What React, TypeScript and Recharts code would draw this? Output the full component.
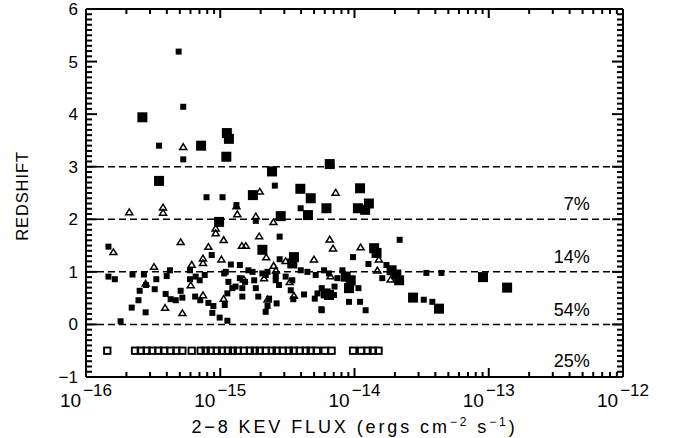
import { ScatterChart, Scatter, XAxis, YAxis, ReferenceLine } from "recharts";

// [flux (erg cm^-2 s^-1), redshift]
const smallSquares: [number, number][] = [
  [4.9e-16, 5.19], [5.3e-16, 4.14], [3.5e-16, 3.4], [5.3e-16, 3.14], [7.9e-16, 2.42], [1.04e-15, 2.42], [2.55e-15, 2.64], [3.97e-15, 2.21], [1.32e-15, 2.27], [1.84e-15, 1.97],
  [1.47e-16, 1.48], [8.64e-16, 1.32], [4.22e-16, 1.03], [5.95e-16, 1.03], [1.47e-16, 0.91], [1.64e-16, 0.86], [2.22e-16, 0.95], [2.7e-16, 0.95], [3.34e-16, 0.86], [3.99e-16, 0.92],
  [2.8e-16, 0.75], [2.51e-16, 0.64], [3.25e-16, 0.67], [2.46e-16, 0.46], [2.19e-16, 0.32], [2.78e-16, 0.23], [1.81e-16, 0.06], [3.92e-16, 0.58], [4.27e-16, 0.48], [4.66e-16, 0.46],
  [5.22e-16, 0.51], [5.07e-16, 0.64], [5.95e-16, 0.86], [6.56e-16, 0.91], [7.03e-16, 0.84], [7.66e-16, 0.94], [6.5e-16, 0.53], [7.1e-16, 0.46], [8.16e-16, 0.41], [8.89e-16, 0.35],
  [8.73e-16, 0.22], [9.9e-16, 0.13], [1.07e-15, 0.97], [1.08e-15, 0.37], [2.77e-15, 1.67], [2.77e-15, 1.24], [9.75e-15, 1.28], [1.2e-15, 1.14], [1.4e-15, 1.13], [1.1e-15, 1.0],
  [1.62e-15, 1.03], [1.74e-15, 1.0], [2.06e-15, 0.97], [2.25e-15, 1.0], [2.59e-15, 0.92], [3.98e-15, 1.03], [4.46e-15, 1.0], [5.14e-15, 0.94], [5.93e-15, 1.03], [6.46e-15, 0.97],
  [8.13e-15, 1.03], [1.15e-15, 0.81], [1.4e-15, 0.88], [1.53e-15, 0.81], [1.79e-15, 0.84], [2.18e-15, 0.94], [2.59e-15, 0.84], [2.74e-15, 0.75], [3.07e-15, 0.91], [3.44e-15, 0.84],
  [3.35e-15, 0.65], [1.46e-15, 0.69], [1.3e-15, 0.72], [1.23e-15, 0.69], [1.84e-15, 0.69], [1.46e-15, 0.53], [1.13e-15, 0.59], [1.13e-15, 0.07], [1.92e-15, 0.53], [2.31e-15, 0.49],
  [2.25e-15, 0.35], [2.18e-15, 0.24], [2.63e-15, 0.4], [3.5e-15, 0.48], [4.21e-15, 0.57], [5.06e-15, 0.49], [5.3e-15, 0.59], [5.7e-15, 0.69], [7.03e-15, 0.56], [5.7e-15, 0.27],
  [9.1e-15, 0.43], [7.1e-15, 0.72], [7.46e-15, 0.88], [2.17e-14, 1.61], [1.27e-14, 1.15], [1.73e-14, 1.13], [1.61e-14, 0.88], [3.43e-14, 0.98], [4.44e-14, 0.98], [3.28e-14, 0.47],
  [3.8e-14, 0.43], [9.5e-15, 0.78], [1.07e-14, 0.69], [1.1e-14, 0.43], [1.21e-14, 0.27], [5.67e-15, 0.29],
];

const largeSquares: [number, number][] = [
  [2.63e-16, 3.94], [7.2e-16, 3.4], [1.12e-15, 3.64], [1.16e-15, 3.53], [1.11e-15, 3.19], [3.5e-16, 2.73], [2.43e-15, 2.91], [6.54e-15, 3.05], [1.75e-15, 2.46], [3.95e-15, 2.58],
  [4.72e-15, 2.4], [1.1e-14, 2.59], [1.28e-14, 2.3], [1.06e-14, 2.21], [1.2e-14, 2.18], [4.5e-15, 2.08], [6.18e-15, 2.21], [2.82e-15, 2.06], [9.8e-16, 1.95], [2.06e-15, 1.42],
  [3.54e-15, 1.28], [3.44e-15, 1.16], [8.6e-15, 0.91], [9.37e-15, 0.84], [6.1e-15, 0.59], [6.46e-15, 0.56], [1.4e-14, 1.45], [1.46e-14, 1.36], [1.89e-14, 1.03], [2.15e-14, 0.84],
  [2.05e-14, 0.95], [9.06e-14, 0.9], [1.37e-13, 0.7], [2.73e-14, 0.51], [4.26e-14, 0.3], [9.1e-15, 0.69],
];

const triangles: [number, number][] = [
  [2.1e-16, 2.14], [3.75e-16, 2.23], [3.75e-16, 2.13], [5.3e-16, 3.38], [1.32e-15, 2.25], [1.34e-15, 2.1], [1.97e-15, 2.53], [7.24e-15, 2.51], [1.84e-15, 2.06], [2.49e-15, 1.95],
  [9.25e-16, 1.83], [9.25e-16, 1.74], [1.06e-15, 1.61], [1.6e-16, 1.38], [5.07e-16, 1.57], [8.16e-16, 1.48], [7.44e-16, 1.26], [7.44e-16, 1.17], [1.02e-15, 1.24], [6.13e-16, 1.14],
  [3.21e-16, 1.1], [2.78e-16, 0.78], [3.88e-16, 0.32], [5.22e-16, 0.22], [6.03e-16, 0.75], [7.44e-16, 0.56], [1.06e-15, 0.49], [1.95e-15, 1.68], [1.45e-15, 1.5], [1.55e-15, 1.5],
  [6.54e-15, 1.62], [6.92e-15, 1.45], [2.2e-15, 1.28], [3.07e-15, 1.21], [4.99e-15, 1.24], [2.5e-15, 1.12], [2.6e-15, 1.03], [1.5e-15, 0.86], [2.12e-15, 0.88], [3.29e-15, 0.81],
  [2.25e-15, 0.48], [3.54e-15, 0.55], [6.63e-15, 0.92], [1.11e-14, 1.47], [1.52e-14, 1.24], [1.48e-14, 1.03], [1.86e-14, 0.86],
];

// sources without redshift, plotted in a row below zero
const noRedshiftZ = -0.5;
const noRedshiftFlux = [
  1.44e-16, 2.32e-16, 2.56e-16, 2.83e-16, 3.12e-16, 3.46e-16, 3.81e-16, 4.27e-16, 4.71e-16, 5.22e-16,
  6.13e-16, 7.15e-16, 7.79e-16, 8.49e-16, 9.41e-16, 1.03e-15, 1.14e-15, 1.24e-15, 1.35e-15, 1.5e-15,
  1.66e-15, 1.81e-15, 1.97e-15, 2.18e-15, 2.42e-15, 2.63e-15, 2.92e-15, 3.24e-15, 3.52e-15, 3.91e-15,
  4.33e-15, 4.72e-15, 5.23e-15, 6.0e-15, 6.75e-15, 9.76e-15, 1.12e-14, 1.25e-14, 1.37e-14, 1.51e-14,
];

const zoneLines = [0, 1, 2, 3];
const zoneLabels = ["7%", "14%", "54%", "25%"];
const zoneLabelZ = [2.3, 1.3, 0.285, -0.69];
const zoneLabelFlux = 5.65e-13;

const X_MIN = 1e-16;
const X_MAX = 1e-12;
const Z_MIN = -1;
const Z_MAX = 6;
const decades = [1e-16, 1e-15, 1e-14, 1e-13, 1e-12];
const xMinorTicks = decades.slice(0, 4).flatMap((d) => [2, 3, 4, 5, 6, 7, 8, 9].map((m) => m * d));
const zMajorTicks = [-1, 0, 1, 2, 3, 4, 5, 6];
const zMinorTicks = Array.from({ length: 71 }, (_, i) => -1 + i / 10).filter((v) => Math.abs(v - Math.round(v)) > 1e-6);

// chart geometry, used to turn pixel tick lengths into data units
const W = 682;
const H = 438;
const LEFT = 86;
const RIGHT = 59;
const TOP = 9;
const BOTTOM = 61;
const pxPerDecade = (W - LEFT - RIGHT) / Math.log10(X_MAX / X_MIN);
const pxPerZ = (H - TOP - BOTTOM) / (Z_MAX - Z_MIN);

const FONT = "'Liberation Sans', Arial, sans-serif";

const toPoints = (rows: [number, number][]) => rows.map(([flux, z]) => ({ flux, z }));

const DecadeLabel = (props: any) => {
  const x = Number(props.x);
  const y = Number(props.y);
  const exp = Math.round(Math.log10(props.payload.value));
  return (
    <text x={x} y={y + 30} textAnchor="middle" fontSize={19} fontFamily={FONT} fill="#000">
      10
      <tspan dx={2} dy={-11} fontSize={17}>{`−${-exp}`}</tspan>
    </text>
  );
};

const ZLabel = (props: any) => {
  const x = Number(props.x);
  const y = Number(props.y);
  const v = Math.round(props.payload.value);
  return (
    <text x={x - 8} y={y + 6} textAnchor="end" fontSize={17} fontFamily={FONT} fill="#000">
      {v < 0 ? `−${-v}` : `${v}`}
    </text>
  );
};

const XTitle = (props: any) => {
  const { x, y, width } = props.viewBox;
  return (
    <text x={x + width / 2} y={y + 56} textAnchor="middle" fontSize={18} letterSpacing={2.9} fontFamily={FONT} fill="#000">
      2−8 KEV FLUX (ergs cm
      <tspan dy={-7} fontSize={12}>−2</tspan>
      <tspan dy={7}> s</tspan>
      <tspan dy={-7} fontSize={12}>−1</tspan>
      <tspan dy={7}>)</tspan>
    </text>
  );
};

const YTitle = (props: any) => {
  const { y, height } = props.viewBox;
  const cx = 28;
  const cy = y + height / 2 + 3;
  return (
    <text x={cx} y={cy} transform={`rotate(-90 ${cx} ${cy})`} textAnchor="middle" fontSize={16.5} letterSpacing={0.9} fontFamily={FONT} fill="#000">
      REDSHIFT
    </text>
  );
};

const SmallSquare = (p: any) => <rect x={p.cx - 3} y={p.cy - 3} width={6} height={6} fill="#000" />;
const LargeSquare = (p: any) => <rect x={p.cx - 5} y={p.cy - 5} width={10} height={10} fill="#000" />;
const OpenTriangle = (p: any) => (
  <path d={`M${p.cx - 3.5},${p.cy + 2.7} L${p.cx},${p.cy - 3} L${p.cx + 3.5},${p.cy + 2.7} Z`} fill="none" stroke="#000" strokeWidth={1.5} />
);
const OpenSquare = (p: any) => (
  <rect x={p.cx - 3.2} y={p.cy - 3.2} width={6.4} height={6.4} fill="none" stroke="#000" strokeWidth={1.9} />
);
const ZoneText = (p: any) => (
  <text x={p.cx} y={p.cy + 6.5} textAnchor="end" fontSize={18} fontFamily={FONT} fill="#000">
    {p.payload.label}
  </text>
);

// inward tick marks on all four sides of the box
const tickSegments = () => {
  const segs: { x1: number; y1: number; x2: number; y2: number }[] = [];
  const xTick = (v: number, len: number) => {
    const dz = len / pxPerZ;
    segs.push({ x1: v, y1: Z_MIN, x2: v, y2: Z_MIN + dz });
    segs.push({ x1: v, y1: Z_MAX, x2: v, y2: Z_MAX - dz });
  };
  const zTick = (v: number, len: number) => {
    const f = Math.pow(10, len / pxPerDecade);
    segs.push({ x1: X_MIN, y1: v, x2: X_MIN * f, y2: v });
    segs.push({ x1: X_MAX, y1: v, x2: X_MAX / f, y2: v });
  };
  decades.forEach((v) => xTick(v, 9));
  xMinorTicks.forEach((v) => xTick(v, 5));
  zMajorTicks.forEach((v) => zTick(v, 11));
  zMinorTicks.forEach((v) => zTick(v, 6));
  return segs;
};

export default function App() {
  const noRedshift = noRedshiftFlux.map((flux) => ({ flux, z: noRedshiftZ }));
  const zoneData = zoneLabels.map((label, i) => ({ flux: zoneLabelFlux, z: zoneLabelZ[i], label }));
  const boxLine = { stroke: "#000", strokeWidth: 2 };

  return (
    <div style={{ position: "absolute", left: 0, top: 0, background: "#fff", fontFamily: FONT }}>
      <ScatterChart width={W} height={H} margin={{ top: 0, right: 0, bottom: 0, left: 0 }}>
        <XAxis
          xAxisId="b"
          type="number"
          dataKey="flux"
          scale="log"
          domain={[X_MIN, X_MAX]}
          allowDataOverflow
          ticks={decades}
          interval={0}
          tick={DecadeLabel}
          tickLine={false}
          tickSize={0}
          tickMargin={0}
          axisLine={boxLine}
          height={BOTTOM}
          label={XTitle}
        />
        <XAxis
          xAxisId="t"
          orientation="top"
          type="number"
          dataKey="flux"
          scale="log"
          domain={[X_MIN, X_MAX]}
          allowDataOverflow
          tick={false}
          tickLine={false}
          axisLine={boxLine}
          height={TOP}
        />
        <YAxis
          yAxisId="l"
          type="number"
          dataKey="z"
          domain={[Z_MIN, Z_MAX]}
          allowDataOverflow
          ticks={zMajorTicks}
          interval={0}
          tick={ZLabel}
          tickLine={false}
          tickSize={0}
          tickMargin={0}
          axisLine={boxLine}
          width={LEFT}
          label={YTitle}
        />
        <YAxis
          yAxisId="r"
          orientation="right"
          type="number"
          dataKey="z"
          domain={[Z_MIN, Z_MAX]}
          allowDataOverflow
          tick={false}
          tickLine={false}
          axisLine={boxLine}
          width={RIGHT}
        />
        {zoneLines.map((z) => (
          <ReferenceLine key={z} xAxisId="b" yAxisId="l" y={z} stroke="#000" strokeWidth={1.5} strokeDasharray="7 4" />
        ))}
        {tickSegments().map((s, i) => (
          <ReferenceLine
            key={`tick-${i}`}
            xAxisId="b"
            yAxisId="l"
            ifOverflow="visible"
            segment={[{ x: s.x1, y: s.y1 }, { x: s.x2, y: s.y2 }]}
            stroke="#000"
            strokeWidth={2}
          />
        ))}
        <Scatter xAxisId="b" yAxisId="l" data={toPoints(smallSquares)} shape={SmallSquare} isAnimationActive={false} />
        <Scatter xAxisId="b" yAxisId="l" data={toPoints(largeSquares)} shape={LargeSquare} isAnimationActive={false} />
        <Scatter xAxisId="b" yAxisId="l" data={toPoints(triangles)} shape={OpenTriangle} isAnimationActive={false} />
        <Scatter xAxisId="b" yAxisId="l" data={noRedshift} shape={OpenSquare} isAnimationActive={false} />
        <Scatter xAxisId="t" yAxisId="r" data={zoneData} shape={ZoneText} isAnimationActive={false} />
      </ScatterChart>
    </div>
  );
}
